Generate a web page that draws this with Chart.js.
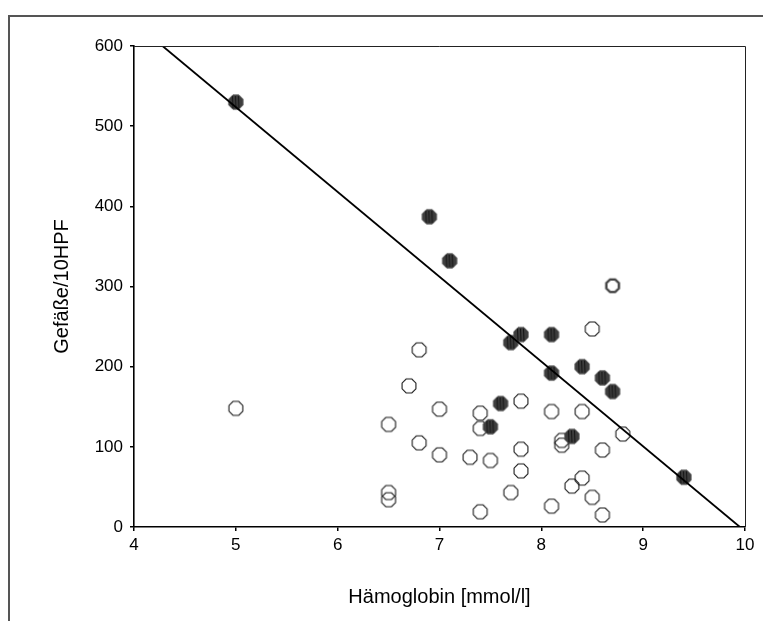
<!DOCTYPE html>
<html>
<head>
<meta charset="utf-8">
<script src="https://cdn.jsdelivr.net/npm/chart.js@4"></script>
<style>
  html, body { margin: 0; padding: 0; background: #fff; }
  #wrap { position: relative; width: 763px; height: 621px; }
</style>
</head>
<body>
<div id="wrap"><canvas id="chart"></canvas></div>
<script>
// Hämoglobin [mmol/l] vs. Gefäße/10HPF
const xTicks = [4, 5, 6, 7, 8, 9, 10];
const yTicks = [0, 100, 200, 300, 400, 500, 600];

// open markers
const openHb = [5.0, 6.5, 6.5, 6.5, 6.7, 6.8, 6.8, 7.0, 7.0, 7.3, 7.4, 7.4, 7.4, 7.5, 7.7,
  7.8, 7.8, 7.8, 8.1, 8.1, 8.2, 8.2, 8.3, 8.4, 8.4, 8.5, 8.5, 8.6, 8.6, 8.8];
const openVessels = [148, 128, 43, 34, 176, 221, 105, 147, 90, 87, 142, 123, 19, 83, 43,
  157, 97, 70, 144, 26, 108, 102, 51, 144, 61, 247, 37, 96, 15, 116];

// two cases on the same spot
const dupHb = [8.7];
const dupVessels = [301];

// filled markers
const filledHb = [5.0, 6.9, 7.1, 7.5, 7.6, 7.7, 7.8, 8.1, 8.1, 8.3, 8.4, 8.6, 8.7, 9.4];
const filledVessels = [530, 387, 332, 125, 154, 230, 240, 240, 192, 113, 200, 186, 169, 62];

// regression line end points
const fitX = [4.28, 9.95];
const fitY = [600, 0];

function pts(xs, ys) {
  return xs.map((x, i) => ({ x: x, y: ys[i] }));
}

function octagon(ctx, cx, cy, r) {
  ctx.beginPath();
  for (let i = 0; i < 8; i++) {
    const a = Math.PI / 8 + i * Math.PI / 4;
    const px = cx + r * Math.cos(a);
    const py = cy + r * Math.sin(a);
    if (i === 0) ctx.moveTo(px, py); else ctx.lineTo(px, py);
  }
  ctx.closePath();
}

function makeMarker(kind) {
  const s = 18;
  const c = document.createElement("canvas");
  c.width = s;
  c.height = s;
  const g = c.getContext("2d");
  if (kind === "filled") {
    octagon(g, s / 2, s / 2, 7.8);
    g.fillStyle = "#3d3d3d";
    g.fill();
    g.save();
    g.clip();
    g.strokeStyle = "#151515";
    g.lineWidth = 1;
    [5.5, 8.5, 11.5].forEach((x) => {
      g.beginPath();
      g.moveTo(x, 3);
      g.lineTo(x + 0.5, 15);
      g.stroke();
    });
    g.restore();
    g.strokeStyle = "#555";
    g.lineWidth = 0.8;
    octagon(g, s / 2, s / 2, 7.8);
    g.stroke();
  } else if (kind === "dup") {
    octagon(g, s / 2, s / 2, 6.8);
    g.strokeStyle = "#6a6a6a";
    g.lineWidth = 2.6;
    g.stroke();
    g.strokeStyle = "#222";
    g.lineWidth = 0.9;
    g.stroke();
  } else {
    octagon(g, s / 2, s / 2, 7.5);
    g.strokeStyle = "#1a1a1a";
    g.lineWidth = 1.1;
    g.stroke();
  }
  return c;
}

// outer frame plus the thin box round the plot
const framePlugin = {
  id: "frame",
  beforeDraw(chart) {
    const ctx = chart.ctx;
    ctx.save();
    ctx.fillStyle = "#fff";
    ctx.fillRect(0, 0, chart.width, chart.height);
    ctx.strokeStyle = "#555";
    ctx.lineWidth = 2;
    ctx.beginPath();
    ctx.moveTo(9, chart.height);
    ctx.lineTo(9, 16);
    ctx.lineTo(chart.width, 16);
    ctx.stroke();
    ctx.restore();
  },
  afterDatasetsDraw(chart) {
    const a = chart.chartArea;
    const ctx = chart.ctx;
    ctx.save();
    ctx.strokeStyle = "#222";
    ctx.lineWidth = 1;
    ctx.beginPath();
    ctx.moveTo(a.left, Math.round(a.top) + 0.5);
    ctx.lineTo(Math.round(a.right) + 0.5, Math.round(a.top) + 0.5);
    ctx.lineTo(Math.round(a.right) + 0.5, a.bottom);
    ctx.stroke();
    ctx.restore();
  },
};

const tickFont = { family: "'Liberation Sans', Arial, sans-serif", size: 17 };
const titleFont = { family: "'Liberation Sans', Arial, sans-serif", size: 20 };

new Chart(document.getElementById("chart"), {
  type: "scatter",
  data: {
    datasets: [
      {
        type: "line",
        data: pts(fitX, fitY),
        borderColor: "#000",
        borderWidth: 1.8,
        pointRadius: 0,
        fill: false,
        order: 0,
      },
      {
        data: pts(openHb, openVessels),
        pointStyle: makeMarker("open"),
        order: 2,
      },
      {
        data: pts(dupHb, dupVessels),
        pointStyle: makeMarker("dup"),
        order: 2,
      },
      {
        data: pts(filledHb, filledVessels),
        pointStyle: makeMarker("filled"),
        order: 1,
      },
    ],
  },
  options: {
    responsive: true,
    maintainAspectRatio: false,
    animation: false,
    layout: { padding: { left: 0, top: 46, right: 18, bottom: 0 } },
    plugins: {
      legend: { display: false },
      tooltip: { enabled: false },
    },
    scales: {
      x: {
        type: "linear",
        min: 4,
        max: 10,
        afterBuildTicks: (s) => { s.ticks = xTicks.map((v) => ({ value: v })); },
        afterFit: (s) => { s.height = 94; },
        border: { color: "#000", width: 1.6 },
        grid: { drawOnChartArea: false, color: "#000", tickLength: 4, lineWidth: 1.5 },
        ticks: { color: "#000", font: tickFont, padding: 4, maxRotation: 0 },
        title: {
          display: true,
          text: "Hämoglobin [mmol/l]",
          color: "#000",
          font: titleFont,
          padding: { top: 0, bottom: 12 },
        },
      },
      y: {
        type: "linear",
        min: 0,
        max: 600,
        afterBuildTicks: (s) => { s.ticks = yTicks.map((v) => ({ value: v })); },
        afterFit: (s) => { s.width = 134; },
        border: { color: "#000", width: 1.6 },
        grid: { drawOnChartArea: false, color: "#000", tickLength: 4, lineWidth: 1.5 },
        ticks: { color: "#000", font: tickFont, padding: 7 },
        title: {
          display: true,
          text: "Gefäße/10HPF",
          color: "#000",
          font: titleFont,
          padding: { top: 50, bottom: 0 },
        },
      },
    },
  },
  plugins: [framePlugin],
});
</script>
</body>
</html>
